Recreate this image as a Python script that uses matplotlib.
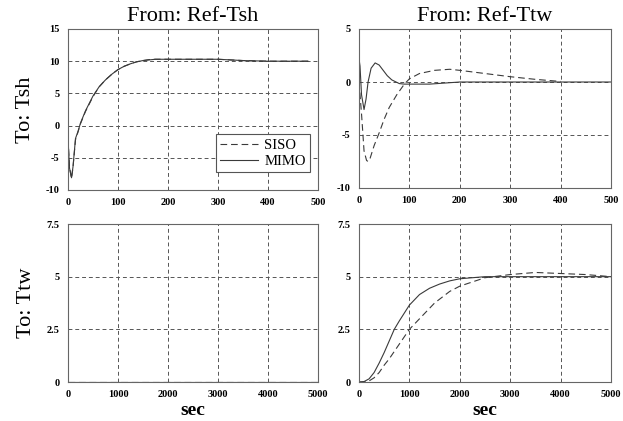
import numpy as np
import matplotlib
matplotlib.use("Agg")
import matplotlib.pyplot as plt

plt.rcParams["font.family"] = ["Liberation Serif", "DejaVu Serif"]

# step responses
# From Ref-Tsh -> Tsh (time in sec)
t_a = [0, 3, 7, 10, 15, 20, 25, 35, 50, 62, 75, 88, 100, 112, 125, 137, 150, 162,
       175, 200, 250, 300, 350, 400, 480]
siso_a = [-2, -6.5, -8.2, -6.5, -2.2, -1.0, 0.3, 2.2, 4.5, 6.0, 7.1, 8.0, 8.7, 9.2,
          9.6, 9.9, 10.1, 10.25, 10.3, 10.3, 10.3, 10.3, 10.1, 10.0, 10.0]
mimo_a = [-2, -6.6, -8.1, -6.4, -2.0, -0.9, 0.4, 2.3, 4.6, 6.0, 7.1, 8.0, 8.7, 9.2,
          9.6, 9.9, 10.1, 10.2, 10.3, 10.3, 10.3, 10.3, 10.1, 10.0, 10.0]

# From Ref-Ttw -> Tsh
t_b_siso = [0, 5, 10, 15, 18, 22, 30, 40, 50, 60, 75, 90, 100, 120, 150, 180, 200,
            250, 300, 350, 400]
siso_b = [0, -3, -6.5, -7.4, -7.5, -7.2, -6.0, -4.8, -3.5, -2.4, -1.2, -0.2, 0.3,
          0.8, 1.1, 1.2, 1.1, 0.8, 0.5, 0.25, 0.05]
t_b_mimo = [0, 2, 5, 10, 14, 18, 24, 32, 40, 48, 56, 65, 80, 90, 110, 140, 170,
            200, 300, 500]
mimo_b = [2.2, 1.5, -1.2, -2.6, -1.6, 0.0, 1.3, 1.8, 1.6, 1.1, 0.6, 0.2, -0.15, -0.2,
          -0.2, -0.2, -0.1, 0, 0, 0]

# From Ref-Tsh -> Ttw
t_c = [0, 5000]
siso_c = [0, 0]
mimo_c = [0, 0]

# From Ref-Ttw -> Ttw
t_d_mimo = [0, 100, 200, 300, 400, 500, 600, 700, 800, 1000, 1200, 1400, 1600, 1800,
            2000, 2500, 3000, 4000, 5000]
mimo_d = [0, 0.02, 0.15, 0.45, 0.9, 1.4, 1.95, 2.5, 2.9, 3.65, 4.15, 4.45, 4.65, 4.8,
          4.9, 5.0, 5.0, 5.0, 5.0]
t_d_siso = [0, 100, 200, 300, 400, 500, 600, 700, 800, 1000, 1200, 1500, 1800, 2000,
            2500, 3000, 3500, 4000, 4500, 5000]
siso_d = [0, 0, 0.05, 0.2, 0.45, 0.8, 1.1, 1.45, 1.8, 2.5, 3.0, 3.75, 4.3, 4.55, 4.95,
          5.1, 5.2, 5.15, 5.1, 5.0]

col_titles = ["From: Ref-Tsh", "From: Ref-Ttw"]
row_labels = ["To: Tsh", "To: Ttw"]
xticks_top = [0, 100, 200, 300, 400, 500]
xticks_bot = [0, 1000, 2000, 3000, 4000, 5000]
yticks = {
    (0, 0): [-10, -5, 0, 5, 10, 15],
    (0, 1): [-10, -5, 0, 5],
    (1, 0): [0, 2.5, 5, 7.5],
    (1, 1): [0, 2.5, 5, 7.5],
}
ytick_labels = {
    (0, 0): ["-10", "-5", "0", "5", "10", "15"],
    (0, 1): ["-10", "-5", "0", "5"],
    (1, 0): ["0", "2.5", "5", "7.5"],
    (1, 1): ["0", "2.5", "5", "7.5"],
}

fig = plt.figure(figsize=(6.23, 4.21), dpi=100)
W, H = 623, 421
boxes = {
    (0, 0): (68, 29, 318, 190),
    (0, 1): (359, 29, 611, 188),
    (1, 0): (68, 224, 318, 382),
    (1, 1): (359, 224, 611, 382),
}
axes = {}
for key, (x0, y0, x1, y1) in boxes.items():
    axes[key] = fig.add_axes([x0 / W, 1 - y1 / H, (x1 - x0) / W, (y1 - y0) / H])

line_col = "#3a3a3a"
dash = (0, (6, 3.5))
data = {
    (0, 0): [(t_a, siso_a), (t_a, mimo_a)],
    (0, 1): [(t_b_siso, siso_b), (t_b_mimo, mimo_b)],
    (1, 0): [(t_c, siso_c), (t_c, mimo_c)],
    (1, 1): [(t_d_siso, siso_d), (t_d_mimo, mimo_d)],
}

for (r, c), ax in axes.items():
    (ts, ys), (tm, ym) = data[(r, c)]
    ax.plot(ts, ys, color=line_col, lw=0.8, linestyle=dash, label="SISO")
    ax.plot(tm, ym, color=line_col, lw=0.8, label="MIMO")
    if r == 0:
        ax.set_xlim(0, 500)
        ax.set_xticks(xticks_top)
        ax.set_ylim(yticks[(r, c)][0], yticks[(r, c)][-1])
    else:
        ax.set_xlim(0, 5000)
        ax.set_xticks(xticks_bot)
        ax.set_ylim(0, 7.5)
    ax.set_yticks(yticks[(r, c)])
    ax.set_yticklabels(ytick_labels[(r, c)])
    ax.grid(True, color="#555555", linestyle=(0, (4, 3)), lw=0.7)
    ax.tick_params(length=0, labelsize=7.5, pad=6)
    for lab in ax.get_xticklabels() + ax.get_yticklabels():
        lab.set_fontweight("bold")
    for sp in ax.spines.values():
        sp.set_color("#666666")
        sp.set_linewidth(0.8)
    if r == 0:
        ax.set_title(col_titles[c], fontsize=16, pad=6)
    else:
        ax.set_xlabel("sec", fontsize=14, fontweight="bold", labelpad=2)
    if c == 0:
        ax.set_ylabel(row_labels[r], fontsize=16, labelpad=8)

leg = axes[(0, 0)].legend(loc="lower right", bbox_to_anchor=(0.968, 0.11),
                          borderaxespad=0, fancybox=False, fontsize=10.5,
                          handlelength=2.6, framealpha=1, borderpad=0.3,
                          labelspacing=0.2, handletextpad=0.4)
leg.get_frame().set_edgecolor("#555555")
leg.get_frame().set_linewidth(0.8)

fig.savefig("out.png", dpi=100)
